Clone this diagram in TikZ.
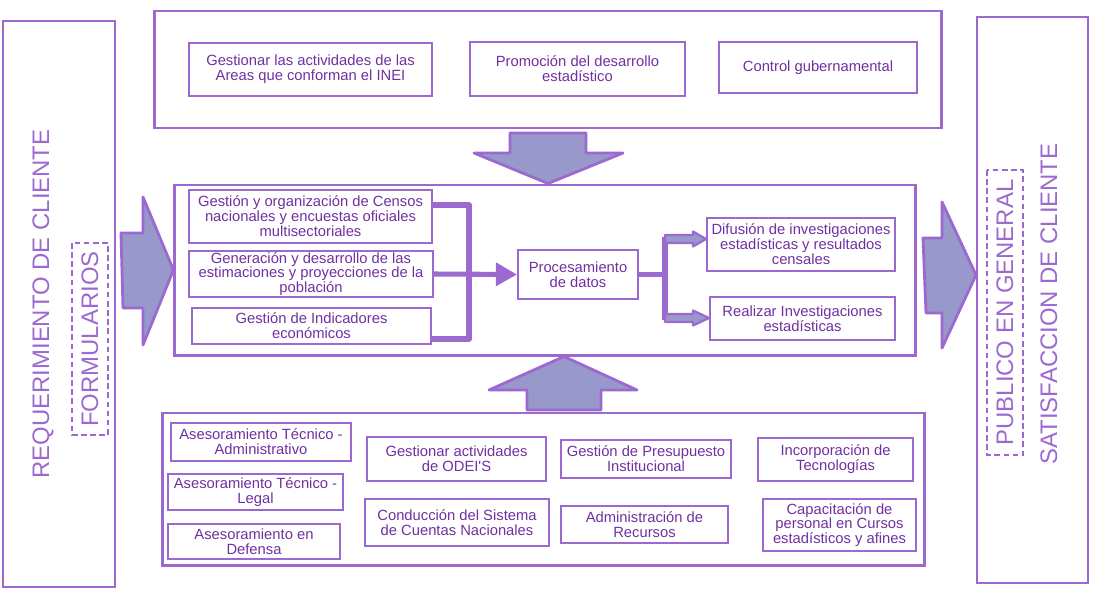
\documentclass[tikz,border=0pt]{standalone}
\usepackage{fontspec}
\setmainfont{Liberation Sans}
\usepackage{xcolor}
\usepackage{tikz}
\usetikzlibrary{
	arrows.meta,
	calc,
	positioning
}
\definecolor{LineViolet}{RGB}{155,105,208}
\definecolor{TextViolet}{RGB}{112,48,160}
\definecolor{ArrowFill}{RGB}{152,152,202}

\begin{document}
\begin{tikzpicture}[x=0.025cm, y=-0.025cm,
		frame/.style={draw=LineViolet, line width=2.1pt},
		panel/.style={draw=LineViolet, line width=1.4pt},
		task/.style={draw=LineViolet, line width=1.4pt, text=TextViolet, align=center, inner sep=1pt,
			font=\fontsize{10.5}{10.6}\selectfont},
		bigtext/.style={text=LineViolet, rotate=90, font=\fontsize{17}{18}\selectfont},
		tag/.style={bigtext, draw=LineViolet, line width=1.1pt, dash pattern=on 4pt off 2.5pt,
			minimum height=0.9cm, inner sep=0pt},
		blockarrow/.style={draw=LineViolet, fill=ArrowFill, line width=2pt, line join=round},
		link/.style={draw=LineViolet, line width=3.6pt}
	]
			\useasboundingbox (0,0) rectangle (1097,600);
			\node[panel, minimum width=2.8cm, minimum height=14.15cm] (cliente) at (59,304) {};
			\node[bigtext] (req) at (43,304) {REQUERIMIENTO DE CLIENTE};
			\node[tag, minimum width=4.8cm] (formularios) at (90,339) {FORMULARIOS};
			\node[panel, minimum width=2.775cm, minimum height=14.15cm] (publico) at (1032.5,300) {};
			\node[tag, minimum width=7.125cm] (general) at (1005,312.5) {PUBLICO EN GENERAL};
			\node[bigtext] (satisf) at (1049,304) {SATISFACCION DE CLIENTE};

			\node[frame, minimum width=19.65cm, minimum height=2.925cm] (direccion) at (548,69.5) {};
			\node[task, minimum width=6.075cm, minimum height=1.325cm] (areas) at (310.5,69.5) {Gestionar las actividades de las\\Areas que conforman el INEI};
			\node[task, minimum width=5.375cm, minimum height=1.35cm] (promocion) at (577.5,69) {Promoción del desarrollo\\estadístico};
			\node[task, minimum width=4.95cm, minimum height=1.275cm] (control) at (818,67.5) {Control gubernamental};

			\node[frame, minimum width=18.5cm, minimum height=4.25cm] (produccion) at (545,270) {};
			\node[task, minimum width=6.075cm, minimum height=1.325cm] (censos) at (310.5,216.5) {Gestión y organización de Censos\\nacionales y encuestas oficiales\\multisectoriales};
			\node[task, minimum width=6.1cm, minimum height=1.15cm] (poblacion) at (311,274) {Generación y desarrollo de las\\estimaciones y proyecciones de la\\población};
			\node[task, minimum width=5.975cm, minimum height=0.9cm] (indicadores) at (311.5,326) {Gestión de Indicadores\\económicos};
			\node[task, minimum width=3cm, minimum height=1.225cm] (proceso) at (578,274.5) {Procesamiento\\de datos};
			\node[task, minimum width=4.7cm, minimum height=1.325cm] (difusion) at (801,244.5) {Difusión de investigaciones\\estadísticas y resultados\\censales};
			\node[task, minimum width=4.625cm, minimum height=1.075cm] (realizar) at (802.5,318.5) {Realizar Investigaciones\\estadísticas};

			\node[frame, minimum width=19.025cm, minimum height=3.8cm] (apoyo) at (543.5,489) {};
			\node[task, minimum width=4.5cm, minimum height=0.95cm] (admin) at (261,442) {Asesoramiento Técnico -\\Administrativo};
			\node[task, minimum width=4.375cm, minimum height=0.9cm] (legal) at (255.5,492) {Asesoramiento Técnico -\\Legal};
			\node[task, minimum width=4.3cm, minimum height=0.875cm] (defensa) at (254,541.5) {Asesoramiento en\\Defensa};
			\node[task, minimum width=4.475cm, minimum height=1.1cm] (odei) at (456.5,459) {Gestionar actividades\\de ODEI\textquotesingle S};
			\node[task, minimum width=4.6cm, minimum height=1.175cm] (cuentas) at (457,522.5) {Conducción del Sistema\\de Cuentas Nacionales};
			\node[task, minimum width=4.25cm, minimum height=0.95cm] (presupuesto) at (646,459) {Gestión de Presupuesto\\Institucional};
			\node[task, minimum width=4.175cm, minimum height=0.925cm] (recursos) at (644.5,524.5) {Administración de\\Recursos};
			\node[task, minimum width=3.875cm, minimum height=1.075cm] (tecnologias) at (835.5,459.5) {Incorporación de\\Tecnologías};
			\node[task, minimum width=3.825cm, minimum height=1.3cm] (capacitacion) at (839.5,525) {Capacitación de\\personal en Cursos\\estadísticos y afines};

			\coordinate (brTop) at (469,205);
			\coordinate (brBot) at (469,339);
			\coordinate (spTop) at (665,237);
			\coordinate (spBot) at (665,320);
			\draw[link, line join=round] (censos.east |- brTop) -- (brTop) -- (brBot) -- (indicadores.east |- brBot);
			\draw[link, -{Triangle[length=15pt, width=16pt]}] (poblacion.east) -- (proceso.west);
			\draw[link] (proceso.east) -- (proceso.east -| spTop);
			\draw[link] (spTop) -- (spBot);
			\draw[blockarrow, line width=1.6pt] (665,235) -- (693,235) -- (693,231.5) -- (difusion.west |- 0,239) -- (693,246.5) -- (693,243) -- (665,243) -- cycle;
			\draw[blockarrow, line width=1.6pt] (665,314) -- (693,314) -- (693,310.5) -- (realizar.west |- 0,318) -- (693,325.5) -- (693,322) -- (665,322) -- cycle;

			\draw[blockarrow] (510,133) -- (586,133) -- (586,153) -- (623,153) -- (produccion.north -| 548,0) -- (474,153) -- (510,153) -- cycle;
			\draw[blockarrow] (527,410) -- (601,410) -- (601,390) -- (637,390) -- (produccion.south -| 564,0) -- (489,390) -- (527,390) -- cycle;
			\draw[blockarrow] (121,233) -- (143,233) -- (143,197) -- (produccion.west |- 0,270) -- (143,345) -- (143,308) -- (123,308) -- cycle;
			\draw[blockarrow] (923,238) -- (942,238) -- (942,202) -- (publico.west |- 0,275) -- (942,348) -- (942,313) -- (926,313) -- cycle;
		\end{tikzpicture}
\end{document}
